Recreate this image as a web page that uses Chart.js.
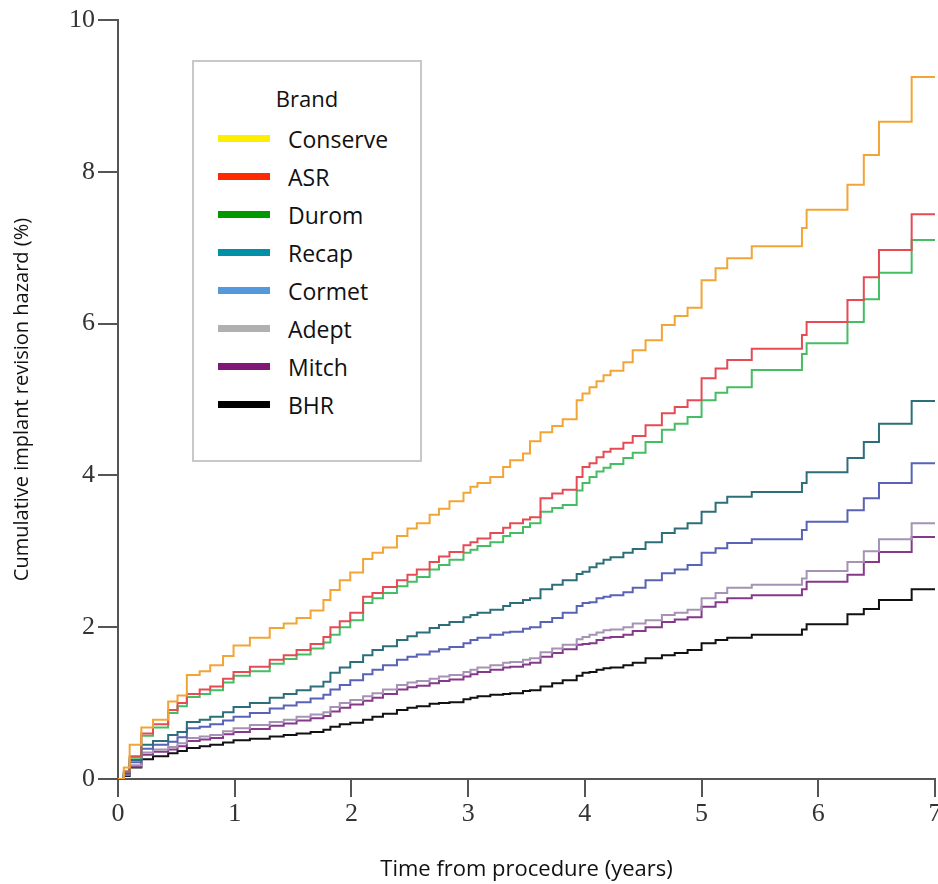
<!DOCTYPE html>
<html lang="en">
<head>
  <meta charset="UTF-8">
  <title>Cumulative implant revision hazard by brand</title>
  <script src="https://cdn.jsdelivr.net/npm/chart.js"></script>
  <style>
    body {
      margin: 0;
      background: #ffffff;
    }

    #wrap {
      position: relative;
      width: 938px;
      height: 884px;
    }

    #legend {
      position: absolute;
      left: 192px;
      top: 60px;
      width: 226px;
      height: 398px;
      border: 2px solid #c8c8c8;
      background: #ffffff;
      font-family: "Open Sans", sans-serif;
      color: #111;
    }

    #legend .title {
      margin-top: 21px;
      height: 30px;
      line-height: 30px;
      font-size: 22px;
      text-align: center;
      padding-left: 0;
    }

    #legend .rows {
      padding-top: 7px;
    }

    #legend .row {
      position: relative;
      height: 38px;
      line-height: 38px;
      font-size: 23px;
    }

    #legend .swatch {
      position: absolute;
      left: 24px;
      top: 15px;
      width: 52px;
      height: 7px;
    }

    #legend .label {
      position: absolute;
      left: 94px;
      top: 0;
    }
  </style>
</head>
<body>
  <div id="wrap">
    <canvas id="grafico" width="938" height="884"></canvas>
    <div id="legend">
      <div class="title">Brand</div>
      <div class="rows" id="legendRows"></div>
    </div>
  </div>

  <script>
    // time from procedure (years)
    const times = [0, 0.05, 0.1, 0.2, 0.3, 0.43, 0.51, 0.59, 0.7, 0.79, 0.9, 0.99, 1.13, 1.3, 1.42, 1.53, 1.65, 1.76, 1.82, 1.9,
      1.99, 2.1, 2.18, 2.27, 2.39, 2.48, 2.56, 2.67, 2.75, 2.84, 2.96, 3.02, 3.08, 3.19, 3.3, 3.36, 3.47, 3.53, 3.62, 3.72,
      3.81, 3.93, 3.98, 4.04, 4.1, 4.16, 4.22, 4.33, 4.41, 4.52, 4.66, 4.77, 4.88, 5.0, 5.12, 5.22, 5.43, 5.86, 5.9, 6.25,
      6.39, 6.52, 6.8, 7.0];

    const brands = ["Conserve", "ASR", "Durom", "Recap", "Cormet", "Adept", "Mitch", "BHR"];
    const lineColors = ["#f2a535", "#e64b55", "#45bd63", "#2c6f7a", "#5862b6", "#a592b4", "#86398a", "#111111"];
    const legendColors = ["#ffee00", "#ff2a00", "#009900", "#0090a8", "#5599dd", "#b0b0b0", "#801878", "#000000"];

    const conserve = [0, 0.15, 0.45, 0.68, 0.78, 1.02, 1.1, 1.37, 1.42, 1.5, 1.62, 1.76, 1.86, 1.99, 2.05, 2.12, 2.22, 2.36, 2.49, 2.62,
      2.72, 2.9, 2.98, 3.05, 3.2, 3.3, 3.37, 3.48, 3.56, 3.66, 3.77, 3.85, 3.9, 3.98, 4.11, 4.2, 4.29, 4.45, 4.57, 4.65,
      4.74, 4.99, 5.08, 5.16, 5.24, 5.32, 5.38, 5.49, 5.65, 5.78, 5.98, 6.1, 6.21, 6.57, 6.73, 6.86, 7.02, 7.26, 7.5, 7.83,
      8.22, 8.66, 9.25, 9.25];
    const asr = [0, 0.1, 0.3, 0.6, 0.72, 0.91, 1.0, 1.12, 1.18, 1.22, 1.32, 1.41, 1.48, 1.57, 1.63, 1.7, 1.78, 1.87, 2.0, 2.08,
      2.19, 2.4, 2.45, 2.53, 2.62, 2.69, 2.76, 2.86, 2.93, 2.99, 3.08, 3.12, 3.17, 3.24, 3.31, 3.37, 3.42, 3.45, 3.7, 3.76,
      3.81, 3.98, 4.11, 4.16, 4.24, 4.31, 4.35, 4.43, 4.52, 4.66, 4.82, 4.9, 4.99, 5.28, 5.41, 5.52, 5.67, 5.85, 6.02, 6.31,
      6.61, 6.97, 7.44, 7.44];
    const durom = [0, 0.1, 0.28, 0.57, 0.68, 0.87, 0.96, 1.08, 1.12, 1.17, 1.27, 1.36, 1.42, 1.52, 1.58, 1.64, 1.72, 1.8, 1.9, 2.0,
      2.09, 2.32, 2.38, 2.45, 2.54, 2.6, 2.66, 2.76, 2.82, 2.89, 2.98, 3.02, 3.07, 3.12, 3.2, 3.24, 3.32, 3.37, 3.52, 3.57,
      3.61, 3.8, 3.9, 3.98, 4.05, 4.1, 4.15, 4.23, 4.3, 4.44, 4.6, 4.68, 4.77, 4.99, 5.09, 5.16, 5.39, 5.6, 5.74, 6.02,
      6.32, 6.67, 7.1, 7.1];
    const recap = [0, 0.08, 0.25, 0.45, 0.5, 0.58, 0.62, 0.75, 0.78, 0.82, 0.88, 0.95, 1.0, 1.07, 1.12, 1.17, 1.22, 1.28, 1.4, 1.47,
      1.54, 1.63, 1.7, 1.75, 1.83, 1.88, 1.93, 1.99, 2.03, 2.07, 2.13, 2.16, 2.19, 2.23, 2.28, 2.32, 2.36, 2.38, 2.5, 2.56,
      2.62, 2.7, 2.73, 2.79, 2.84, 2.89, 2.92, 2.98, 3.03, 3.12, 3.24, 3.3, 3.37, 3.52, 3.64, 3.72, 3.78, 3.9, 4.04, 4.23,
      4.44, 4.68, 4.98, 4.98];
    const cormet = [0, 0.07, 0.22, 0.4, 0.45, 0.49, 0.55, 0.67, 0.69, 0.72, 0.77, 0.82, 0.87, 0.93, 0.97, 1.01, 1.06, 1.11, 1.18, 1.24,
      1.3, 1.38, 1.44, 1.5, 1.57, 1.61, 1.64, 1.68, 1.71, 1.74, 1.79, 1.83, 1.86, 1.9, 1.93, 1.94, 1.98, 2.0, 2.07, 2.12,
      2.19, 2.28, 2.32, 2.33, 2.38, 2.4, 2.42, 2.46, 2.52, 2.62, 2.71, 2.76, 2.82, 2.98, 3.04, 3.11, 3.16, 3.28, 3.39, 3.54,
      3.7, 3.9, 4.16, 4.16];
    const adept = [0, 0.06, 0.18, 0.35, 0.39, 0.42, 0.47, 0.54, 0.56, 0.58, 0.63, 0.67, 0.71, 0.75, 0.78, 0.82, 0.85, 0.88, 0.95, 1.0,
      1.04, 1.09, 1.13, 1.18, 1.24, 1.27, 1.29, 1.32, 1.35, 1.37, 1.41, 1.44, 1.47, 1.5, 1.53, 1.54, 1.57, 1.59, 1.67, 1.72,
      1.77, 1.84, 1.87, 1.9, 1.93, 1.96, 1.97, 2.0, 2.05, 2.09, 2.16, 2.19, 2.23, 2.38, 2.45, 2.52, 2.56, 2.64, 2.74, 2.86,
      3.0, 3.16, 3.37, 3.37];
    const mitch = [0, 0.05, 0.16, 0.32, 0.36, 0.39, 0.43, 0.5, 0.52, 0.54, 0.59, 0.62, 0.66, 0.7, 0.73, 0.77, 0.8, 0.83, 0.89, 0.94,
      0.98, 1.03, 1.07, 1.12, 1.18, 1.21, 1.23, 1.26, 1.29, 1.31, 1.35, 1.38, 1.41, 1.44, 1.47, 1.48, 1.51, 1.53, 1.61, 1.66,
      1.71, 1.77, 1.78, 1.79, 1.83, 1.86, 1.87, 1.9, 1.95, 2.0, 2.07, 2.1, 2.13, 2.27, 2.33, 2.38, 2.42, 2.5, 2.6, 2.69,
      2.86, 2.99, 3.19, 3.19];
    const bhr = [0, 0.04, 0.15, 0.26, 0.3, 0.34, 0.37, 0.41, 0.43, 0.45, 0.48, 0.51, 0.53, 0.56, 0.58, 0.6, 0.62, 0.65, 0.69, 0.72,
      0.74, 0.78, 0.82, 0.86, 0.91, 0.94, 0.96, 0.99, 1.0, 1.01, 1.05, 1.07, 1.09, 1.11, 1.12, 1.13, 1.16, 1.17, 1.22, 1.26,
      1.3, 1.36, 1.4, 1.41, 1.44, 1.46, 1.47, 1.5, 1.53, 1.59, 1.63, 1.66, 1.7, 1.79, 1.83, 1.86, 1.9, 1.97, 2.04, 2.17,
      2.24, 2.36, 2.5, 2.5];

    const series = [conserve, asr, durom, recap, cormet, adept, mitch, bhr];

    const xTicks = [0, 1, 2, 3, 4, 5, 6, 7];
    const yTicks = [0, 2, 4, 6, 8, 10];

    // legend (HTML, sits inside the plot like the original)
    const rows = document.getElementById("legendRows");
    brands.forEach((b, i) => {
      const row = document.createElement("div");
      row.className = "row";
      row.innerHTML = '<span class="swatch" style="background:' + legendColors[i] + '"></span><span class="label">' + b + '</span>';
      rows.appendChild(row);
    });

    const datasets = brands.map((b, i) => ({
      label: b,
      data: times.map((t, j) => ({ x: t, y: series[i][j] })),
      borderColor: lineColors[i],
      backgroundColor: lineColors[i],
      borderWidth: 2,
      pointRadius: 0,
      stepped: true,
      fill: false
    }));

    const tickFont = { family: "'Liberation Serif', 'DejaVu Serif', serif", size: 26 };

    new Chart(document.getElementById("grafico").getContext("2d"), {
      type: "line",
      data: { datasets: datasets },
      options: {
        responsive: false,
        animation: false,
        layout: { padding: { top: 20, right: 3, left: 0, bottom: 0 } },
        plugins: {
          legend: { display: false },
          tooltip: { enabled: false }
        },
        scales: {
          x: {
            type: "linear",
            min: 0,
            max: 7,
            afterBuildTicks: s => { s.ticks = xTicks.map(v => ({ value: v })); },
            afterFit: s => { s.height = 105; s.paddingLeft = 0; s.paddingRight = 0; },
            grid: { drawOnChartArea: false, tickLength: 18, color: "#555", lineWidth: 2 },
            border: { color: "#555", width: 2 },
            ticks: { color: "#333", font: tickFont, padding: 2, maxRotation: 0 },
            title: {
              display: true, text: "Time from procedure (years)", color: "#111",
              font: { family: "'Open Sans', sans-serif", size: 22 }, padding: { bottom: 1 }
            }
          },
          y: {
            min: 0,
            max: 10,
            afterBuildTicks: s => { s.ticks = yTicks.map(v => ({ value: v })); },
            afterFit: s => { s.width = 118; s.paddingTop = 0; s.paddingBottom = 0; },
            grid: { drawOnChartArea: false, tickLength: 20, color: "#555", lineWidth: 2 },
            border: { color: "#555", width: 2 },
            ticks: { color: "#333", font: tickFont, padding: 3 },
            title: {
              display: true, text: "Cumulative implant revision hazard (%)", color: "#111",
              font: { family: "'Open Sans', sans-serif", size: 20 }, padding: { top: 10 }
            }
          }
        }
      }
    });
  </script>
</body>
</html>
